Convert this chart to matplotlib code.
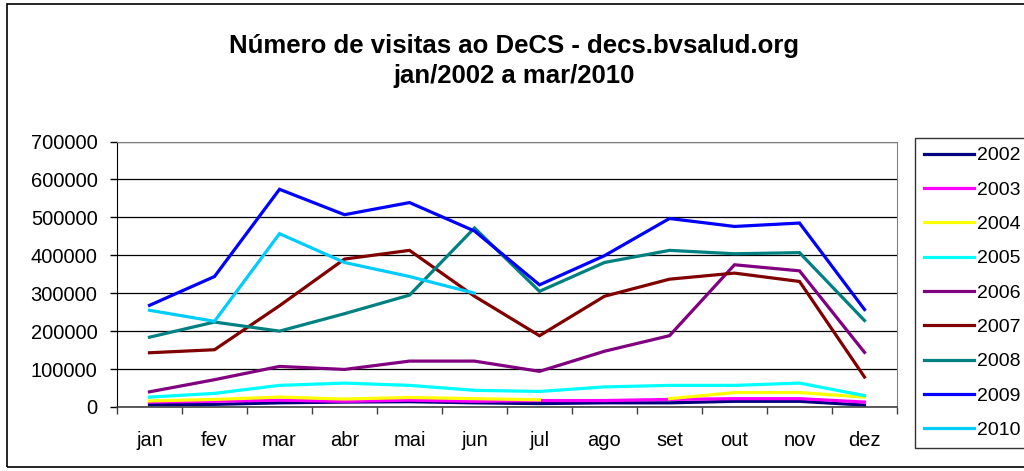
import matplotlib
matplotlib.use("Agg")
import matplotlib.pyplot as plt
import numpy as np
from matplotlib.patches import Rectangle

plt.rcParams["font.family"] = ["Liberation Sans", "DejaVu Sans"]

months = ["jan", "fev", "mar", "abr", "mai", "jun",
          "jul", "ago", "set", "out", "nov", "dez"]
years = ["2002", "2003", "2004", "2005", "2006", "2007", "2008", "2009", "2010"]

v2002 = [6000, 7000, 11000, 13000, 14000, 11000, 9000, 11000, 11000, 15000, 15000, 5000]
v2003 = [13000, 15000, 18000, 15000, 18000, 15000, 17000, 17000, 20000, 22000, 22000, 13000]
v2004 = [16000, 20000, 26000, 21000, 25000, 22000, 19000, np.nan, 22000, 38000, 38000, 26000]
v2005 = [26000, 36000, 57000, 63000, 57000, 44000, 41000, 53000, 57000, 57000, 63000, 30000]
v2006 = [40000, 72000, 107000, 99000, 121000, 121000, 94000, 147000, 188000, 375000, 359000, 144000]
v2007 = [143000, 151000, 267000, 390000, 413000, 292000, 188000, 292000, 337000, 353000, 331000, 79000]
v2008 = [184000, 224000, 200000, 246000, 295000, 472000, 305000, 381000, 413000, 404000, 407000, 228000]
v2009 = [268000, 344000, 574000, 507000, 539000, 464000, 322000, 399000, 497000, 476000, 485000, 257000]
v2010 = [255000, 226000, 457000, 381000, 344000, 300000]

series = [v2002, v2003, v2004, v2005, v2006, v2007, v2008, v2009, v2010]
colors = ["#000080", "#FF00FF", "#FFFF00", "#00FFFF", "#800080",
          "#800000", "#008080", "#0000FF", "#00CCFF"]

W, H = 1024, 471
fig = plt.figure(figsize=(W / 100, H / 100), dpi=100)
ax = fig.add_axes([117 / W, 1 - 407 / H, (897 - 117) / W, (407 - 141.5) / H])

x = np.arange(len(months))
for yr, vals, c in zip(years, series, colors):
    ax.plot(x[:len(vals)], vals, color=c, lw=2.3, label=yr, solid_joinstyle="miter")

ax.set_xlim(-0.5, 11.5)
ax.set_ylim(0, 700000)
ax.set_yticks(np.arange(0, 700001, 100000))
ax.set_yticklabels([str(v) for v in range(0, 700001, 100000)])
ax.yaxis.grid(True, color="black", lw=0.9)
ax.set_axisbelow(True)

ax.set_xticks(x)
ax.set_xticklabels(months)
ax.set_xticks(np.arange(-0.5, 12, 1), minor=True)
ax.tick_params(axis="x", which="major", length=0, pad=17, labelsize=14.5)
ax.tick_params(axis="x", which="minor", length=5, width=1, direction="out", color="#404040")
ax.tick_params(axis="y", length=5, width=1, direction="out", pad=9, labelsize=14.5)

for s in ["top", "right"]:
    ax.spines[s].set_color("#808080")
ax.spines["left"].set_color("black")
ax.spines["bottom"].set_color("#404040")
ax.spines["bottom"].set_linewidth(1.2)

fig.text(514 / W, 1 - 61 / H, "Número de visitas ao DeCS - decs.bvsalud.org\njan/2002 a mar/2010",
         ha="center", va="center", fontsize=18.5, fontweight="bold", linespacing=1.3)

leg = fig.legend(loc="upper left", bbox_to_anchor=(915 / W, 1 - 138 / H), borderaxespad=0,
                 fontsize=14, frameon=True, fancybox=False, handlelength=2.6,
                 handletextpad=0.15, labelspacing=0.86, borderpad=0.45)
leg.get_frame().set_edgecolor("black")
leg.get_frame().set_linewidth(1)

fig.patches.append(Rectangle((7 / W, 4 / H), 1.2, (463) / H, transform=fig.transFigure,
                             fill=False, edgecolor="black", lw=1.2))

fig.savefig("out.png", dpi=100)
